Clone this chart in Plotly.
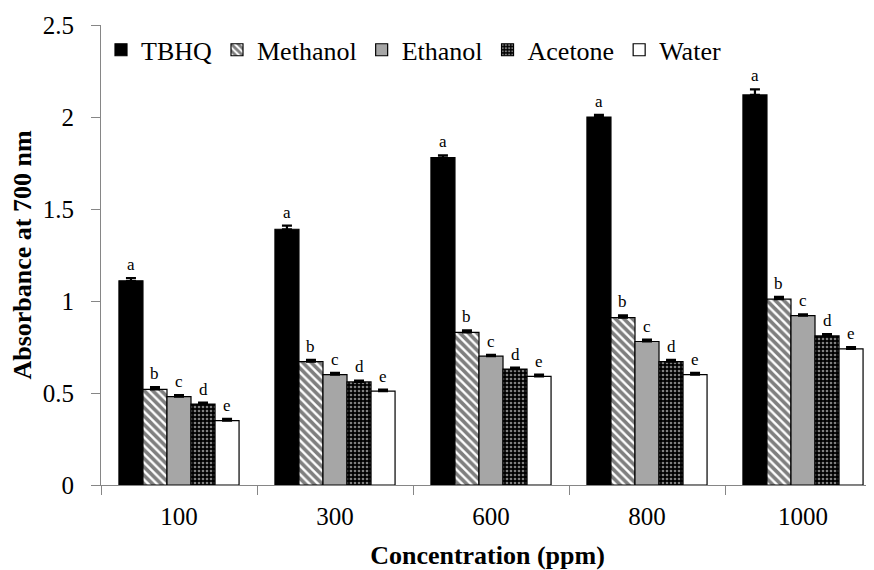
import plotly.graph_objects as go

categories = ["100", "300", "600", "800", "1000"]
series_names = ["TBHQ", "Methanol", "Ethanol", "Acetone", "Water"]

tbhq = [1.11, 1.39, 1.78, 2.00, 2.12]
methanol = [0.52, 0.67, 0.83, 0.91, 1.01]
ethanol = [0.48, 0.60, 0.70, 0.78, 0.92]
acetone = [0.44, 0.56, 0.63, 0.67, 0.81]
water = [0.35, 0.51, 0.59, 0.60, 0.74]

tbhq_err = [0.015, 0.02, 0.012, 0.012, 0.03]
methanol_err = [0.012, 0.01, 0.01, 0.012, 0.012]
ethanol_err = [0.008, 0.01, 0.008, 0.01, 0.008]
acetone_err = [0.008, 0.008, 0.008, 0.01, 0.01]
water_err = [0.01, 0.008, 0.01, 0.01, 0.01]

letters = ["a", "b", "c", "d", "e"]

values = [tbhq, methanol, ethanol, acetone, water]
errors = [tbhq_err, methanol_err, ethanol_err, acetone_err, water_err]

FONT = "Liberation Serif"
BARGAP = 0.23

styles = [
    dict(color="black", pattern=None),
    dict(color="white", pattern=dict(shape="\\", fgcolor="black", bgcolor="white", size=6, solidity=0.6)),
    dict(color="#A6A6A6", pattern=None),
    dict(color="black", pattern=dict(shape=".", fgcolor="white", bgcolor="black", size=4, solidity=0.35)),
    dict(color="white", pattern=None),
]

fig = go.Figure()
for name, vals, errs, st in zip(series_names, values, errors, styles):
    marker = dict(color=st["color"], line=dict(color="black", width=1.2))
    if st["pattern"] is not None:
        marker["pattern"] = st["pattern"]
    fig.add_trace(go.Bar(
        name=name, x=categories, y=vals, marker=marker,
        error_y=dict(type="data", array=errs, arrayminus=[0] * len(errs),
                     color="black", thickness=2.2, width=5),
    ))

# letters above bars
n = len(series_names)
w = (1 - BARGAP) / n
annotations = []
for i, (vals, errs) in enumerate(zip(values, errors)):
    for j, (v, e) in enumerate(zip(vals, errs)):
        annotations.append(dict(
            x=j + (i - (n - 1) / 2) * w, y=v + e, xref="x", yref="y",
            text=letters[i], showarrow=False, yanchor="bottom", yshift=2,
            font=dict(family=FONT, size=17, color="black"),
        ))

# page body adds an 8px margin, so the figure is drawn 8px smaller and shifted
fig.update_layout(
    width=866, height=562,
    margin=dict(l=93, r=0, t=17, b=85, autoexpand=False),
    paper_bgcolor="white", plot_bgcolor="white",
    barmode="group", bargap=BARGAP, bargroupgap=0,
    font=dict(family=FONT, color="black"),
    annotations=annotations,
    legend=dict(
        orientation="h",
        x=0.0, y=0.946, xanchor="left", yanchor="middle",
        font=dict(family=FONT, size=26, color="black"),
        bgcolor="rgba(0,0,0,0)", itemclick=False, tracegroupgap=0,
    ),
    showlegend=True,
)

fig.update_xaxes(
    type="category", range=[-0.5, -0.5 + 773 / 156],
    showline=True, linecolor="#868686", linewidth=1.2,
    ticks="outside", tickson="boundaries", ticklen=9, tickcolor="#868686", tickwidth=1.2,
    ticklabelstandoff=9,
    tickfont=dict(family=FONT, size=25, color="black"),
    title=dict(text="<b>Concentration (ppm)</b>", font=dict(family=FONT, size=26, color="black"), standoff=28),
    showgrid=False, zeroline=False,
)
fig.update_yaxes(
    range=[0, 2.5], dtick=0.5, tick0=0,
    showline=True, linecolor="#868686", linewidth=1.2,
    ticks="outside", ticklen=9, tickcolor="#868686", tickwidth=1.2,
    ticklabelstandoff=12,
    tickfont=dict(family=FONT, size=25, color="black"),
    title=dict(text="<b>Absorbance at 700 nm</b>", font=dict(family=FONT, size=26, color="black"), standoff=6),
    showgrid=False, zeroline=False,
)

fig.write_html("out.html")
